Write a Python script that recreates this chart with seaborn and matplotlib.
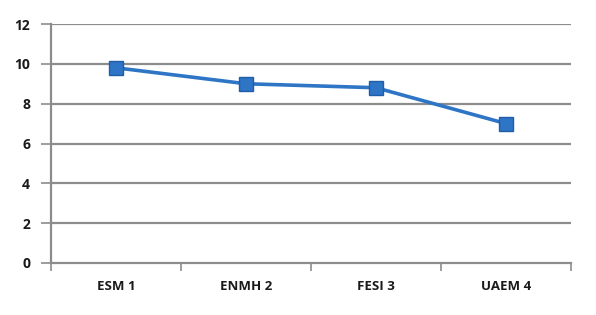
import matplotlib
matplotlib.use("Agg")
import matplotlib.pyplot as plt
import seaborn as sns
import pandas as pd

categories = ["ESM 1", "ENMH 2", "FESI 3", "UAEM 4"]
values = [9.8, 9.0, 8.8, 7.0]
yticks = [0, 2, 4, 6, 8, 10, 12]

df = pd.DataFrame({"cat": categories, "val": values})

sns.set_style("white")
plt.rcParams['font.family'] = ['Open Sans', 'DejaVu Sans']

fig = plt.figure(figsize=(5.96, 3.15), dpi=100)
ax = fig.add_axes([51/596, 1-263/315, (571-51)/596, (263-24)/315])

for y in yticks[1:]:
    ax.axhline(y, color="#8c8c8c", lw=1.6, zorder=0)

sns.lineplot(data=df, x="cat", y="val", sort=False, ax=ax, color="#2e75c6",
             lw=2.6, marker="s", markersize=10, markerfacecolor="#2e75c6",
             markeredgecolor="#1f5ea8", markeredgewidth=1.0)

ax.set_xlim(-0.5, 3.5)
ax.set_ylim(0, 12)
ax.set_yticks(yticks)
ax.set_yticklabels([str(t) for t in yticks], fontsize=10, fontweight="bold", color="#1a1a1a")
ax.set_xticks(range(len(categories)))
ax.set_xticklabels(categories, fontsize=9.5, fontweight="bold", color="#1a1a1a")
ax.set_xticks([i - 0.5 for i in range(len(categories) + 1)], minor=True)
ax.tick_params(axis="x", which="major", length=0, pad=12)
ax.tick_params(axis="x", which="minor", length=6, width=1.2, color="#8c8c8c",
               direction="out", bottom=True)
ax.tick_params(axis="y", length=7, width=1.2, color="#8c8c8c", direction="out", pad=8, left=True)
ax.set_xlabel("")
ax.set_ylabel("")

for s in ["top", "right"]:
    ax.spines[s].set_visible(False)
ax.spines["left"].set_color("#8c8c8c")
ax.spines["left"].set_linewidth(1.6)
ax.spines["bottom"].set_color("#8c8c8c")
ax.spines["bottom"].set_linewidth(1.6)

fig.savefig("out.png", dpi=100)
